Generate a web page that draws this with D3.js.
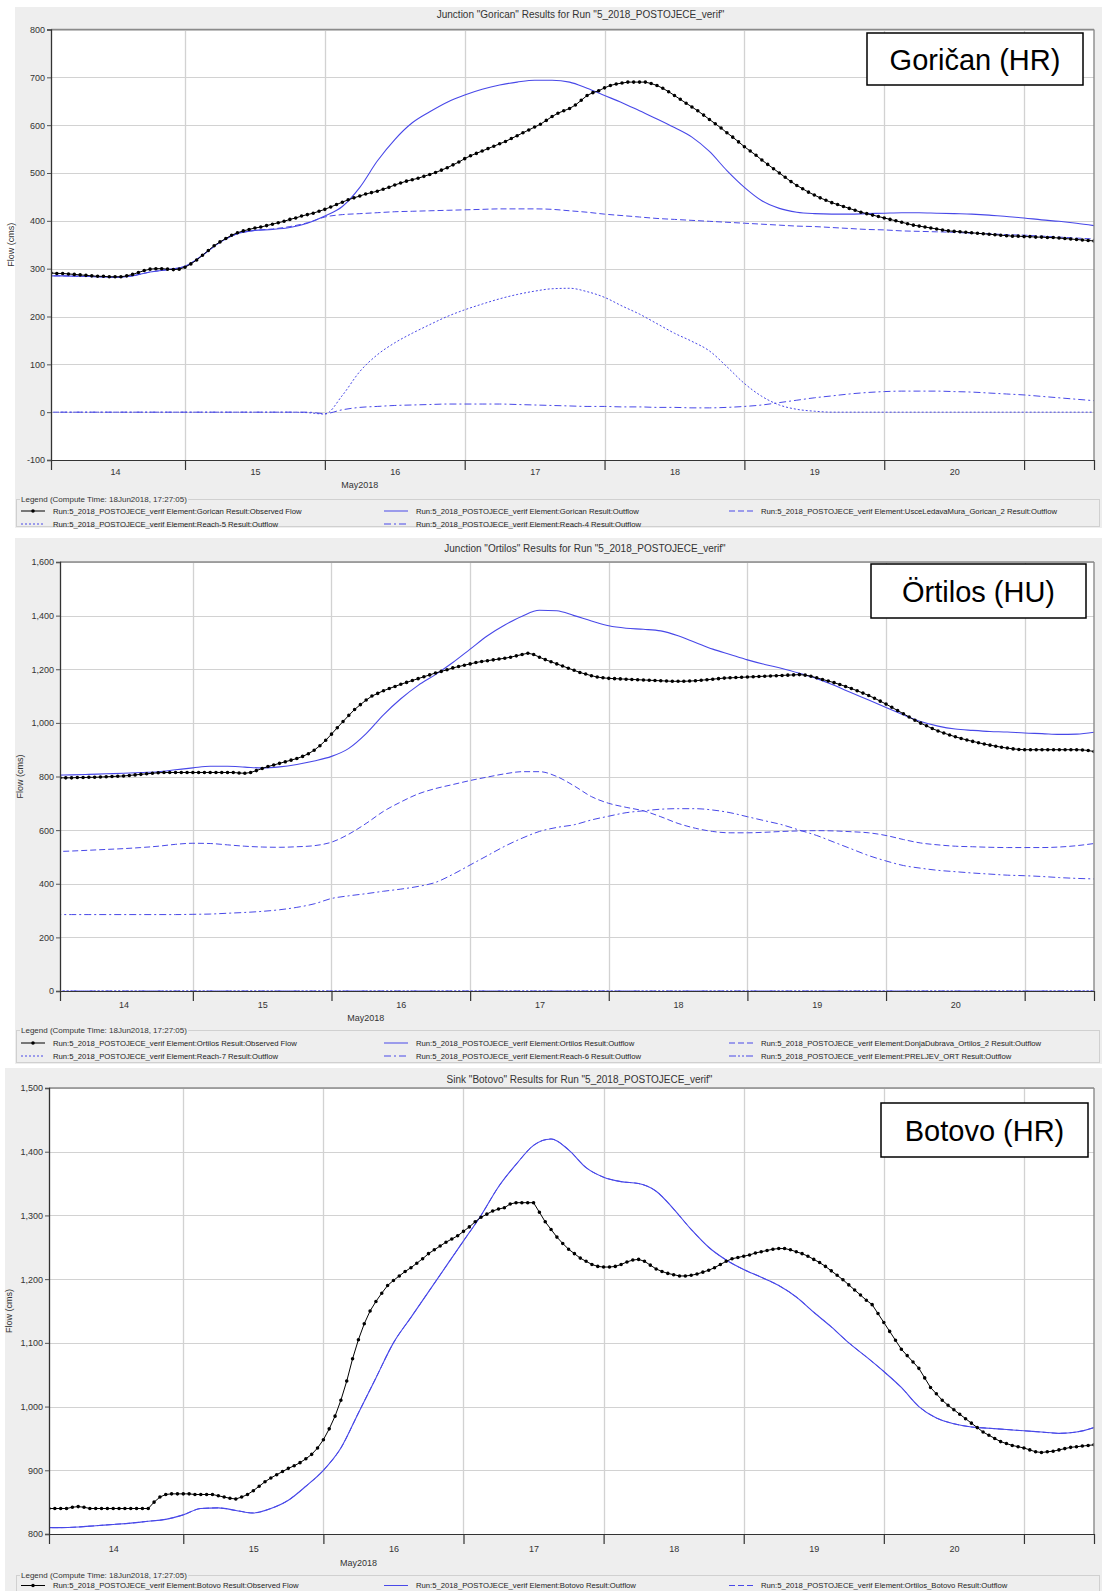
<!DOCTYPE html>
<html><head><meta charset="utf-8">
<script src="https://cdn.jsdelivr.net/npm/d3@7"></script>
<style>
body{margin:0;background:#fff}
svg{display:block}
text{font-family:"Liberation Sans",Arial,sans-serif}
</style>
</head><body>
<svg id="c" width="1102" height="1591"></svg>
<script>
// ---------------- DATA ----------------
const dayLabels = ["14","15","16","17","18","19","20"];
const monthLabel = "May2018";
const modelHours = d3.range(0, 181, 3);   // hours after 14 May 2018 00:00, every 3 h
const obsHours = d3.range(1, 181);        // hourly observations
const flatHours = [0, 180];

// Goričan
const goricanObs = [
 291,290,290,289,288,287,286,285,284,284,283,283,
 283,285,288,292,296,299,300,300,299,298,299,303,
 310,318,328,338,348,356,363,370,375,379,382,385,
 387,390,393,396,399,403,406,410,413,416,420,424,
 429,434,439,444,448,452,456,459,462,466,470,475,
 479,483,486,489,493,497,501,506,511,517,523,530,
 536,541,546,551,556,561,566,572,578,584,590,596,
 602,610,618,625,630,635,642,652,662,668,672,678,
 683,686,688,690,690,690,690,687,683,677,670,662,
 654,646,638,630,621,612,603,594,584,575,565,555,
 546,537,527,518,509,500,491,482,474,467,460,454,
 448,443,438,434,430,426,422,418,415,412,409,406,
 403,400,397,394,391,389,387,385,383,381,379,378,
 377,376,375,374,373,372,371,370,369,368,368,367,
 367,366,366,365,365,364,363,362,361,360,359,358];
const goricanOut = [
 285,285,284,283,282,285,293,298,305,328,355,373,
 380,382,386,395,410,430,470,525,570,605,628,648,
 663,675,684,690,694,694,690,677,662,647,630,613,
 595,575,545,505,470,442,426,418,415,414,414,415,
 416,417,417,416,415,414,412,409,406,402,399,395,
 390];
const usceLedavaMura = [
 285,285,284,283,282,285,293,298,305,328,355,373,
 380,383,388,396,408,413,415,417,419,420,421,422,
 423,424,425,425,425,424,421,418,414,411,408,405,
 403,401,399,397,395,393,391,389,388,386,384,382,
 381,379,378,377,376,374,373,371,370,368,366,364,
 362];
const reach5 = [
 0,0,0,0,0,0,0,0,0,0,0,0,
 0,0,0,-1,-4,35,85,120,145,165,183,200,
 214,226,237,246,253,258,259,252,240,222,205,185,
 165,148,128,95,60,33,15,6,2,0,0,0,
 0,0,0,0,0,0,0,0,0,0,0,0,
 0];
const reach4 = [
 0,0,0,0,0,0,0,0,0,0,0,0,
 0,0,0,0,-3,5,10,12,14,15,16,17,
 17,17,17,16,15,14,13,12,12,11,11,10,
 10,9,9,10,12,15,20,25,30,34,38,41,
 43,44,44,44,43,42,40,38,36,33,30,27,
 24];

// Örtilos
const ortilosObs = [
 795,795,795,796,796,797,797,798,799,800,801,802,
 804,806,808,810,812,814,815,815,815,815,815,815,
 815,815,815,815,815,815,815,813,812,815,822,830,
 837,843,849,855,861,867,875,885,898,915,935,958,
 982,1005,1028,1050,1068,1085,1100,1110,1120,1128,1136,1144,
 1151,1158,1165,1172,1179,1186,1192,1198,1205,1210,1215,1220,
 1225,1229,1232,1235,1238,1241,1245,1250,1255,1260,1255,1245,
 1236,1228,1220,1212,1204,1196,1188,1182,1176,1171,1168,1166,
 1165,1164,1163,1162,1161,1160,1159,1158,1157,1156,1155,1155,
 1155,1156,1157,1159,1161,1163,1165,1167,1168,1169,1170,1171,
 1172,1173,1174,1175,1176,1177,1178,1179,1180,1178,1174,1168,
 1162,1156,1150,1143,1136,1128,1120,1111,1102,1092,1081,1070,
 1058,1046,1034,1022,1010,999,989,979,970,962,955,948,
 942,936,931,926,921,917,913,909,906,903,901,900,
 900,900,900,900,900,900,900,900,900,899,897,893];
const ortilosOut = [
 805,806,808,810,812,815,818,825,832,838,838,835,
 832,836,845,858,875,905,960,1030,1090,1140,1180,1225,
 1275,1325,1365,1398,1420,1418,1400,1380,1362,1353,1349,1343,
 1325,1300,1275,1255,1235,1218,1203,1185,1165,1140,1112,1085,
 1057,1030,1005,988,977,972,968,966,962,960,957,958,
 965];
const donjaDubrava = [
 520,522,525,528,531,535,540,547,551,550,545,540,
 537,536,538,542,555,585,625,670,705,735,755,770,
 785,798,810,818,818,800,765,725,700,685,672,650,
 625,607,595,590,590,592,595,597,598,597,594,590,
 580,565,552,545,540,538,536,535,535,535,537,542,
 550];
const reach6 = [
 285,285,285,285,285,285,285,285,286,287,290,293,
 297,303,312,325,345,355,363,372,380,390,405,435,
 470,505,540,570,595,610,620,638,652,665,672,678,
 680,680,675,665,650,635,620,600,580,555,530,505,
 485,468,458,450,445,440,436,432,430,427,423,420,
 418];
const reach7 = [0, 0];
const preljevOrt = [0, 0];

// Botovo
const botovoObs = [
 840,840,840,840,842,843,842,840,840,840,840,840,
 840,840,840,840,840,840,850,858,862,863,863,863,
 863,862,862,862,862,860,858,856,855,858,862,868,
 875,882,888,893,898,903,907,912,918,925,935,948,
 965,985,1010,1040,1075,1105,1130,1150,1165,1178,1190,1198,
 1205,1212,1218,1225,1232,1240,1246,1252,1258,1263,1268,1275,
 1282,1290,1297,1302,1307,1310,1312,1318,1320,1320,1320,1320,
 1305,1290,1278,1266,1256,1247,1240,1233,1228,1223,1220,1219,
 1219,1220,1223,1227,1230,1231,1228,1222,1216,1212,1209,1207,
 1205,1205,1206,1208,1211,1214,1218,1223,1228,1232,1234,1236,
 1238,1241,1243,1245,1247,1248,1248,1246,1243,1240,1236,1231,
 1226,1220,1213,1206,1199,1191,1183,1175,1167,1160,1146,1132,
 1118,1104,1090,1080,1070,1060,1045,1030,1020,1010,1002,995,
 988,981,974,967,960,955,950,945,942,939,937,935,
 932,929,928,929,930,932,934,936,937,938,939,940];
const botovoOut = [
 810,810,811,813,815,817,820,823,830,840,841,837,
 833,840,853,875,900,935,990,1045,1100,1140,1180,1220,
 1260,1300,1345,1380,1410,1420,1403,1375,1360,1353,1350,1338,
 1310,1278,1250,1230,1215,1203,1190,1172,1148,1125,1100,1078,
 1055,1030,1000,982,973,968,966,964,962,960,958,960,
 967];
const ortilosBotovo = botovoOut; // sink inflow identical to its outflow

const run = "Run:5_2018_POSTOJECE_verif Element:";
const legendTitle = "Legend (Compute Time: 18Jun2018, 17:27:05)";

// ---------------- STYLE ----------------
const BLUE = "#4848e8";
const styles = {
  obs:   {stroke:"#000", dash:null, marker:true, w:1},
  solid: {stroke:BLUE, dash:null, w:1.1},
  dashed:{stroke:BLUE, dash:"6,3", w:1},
  dotted:{stroke:BLUE, dash:"2,2", w:1},
  dashdot:{stroke:BLUE, dash:"7,3,2,3", w:1},
  dashdotdot:{stroke:BLUE, dash:"7,2,2,2,2,2", w:1}
};

const panels = [
 {title:'Junction "Gorican" Results for Run "5_2018_POSTOJECE_verif"', station:"Goričan (HR)",
  bg:[15,7,1102,528], left:51, right:1094, top:29.5, bottom:460, yDomain:[-100,800], yStep:100,
  titleY:14, ylabX:11, below:[12,25,39,51,64], legendBottom:526,
  box:[867,33,216,52],
  series:[
   {hours:obsHours, vals:goricanObs, st:"obs", label:run+"Gorican Result:Observed Flow"},
   {hours:modelHours, vals:goricanOut, st:"solid", label:run+"Gorican Result:Outflow"},
   {hours:modelHours, vals:usceLedavaMura, st:"dashed", label:run+"UsceLedavaMura_Gorican_2 Result:Outflow"},
   {hours:modelHours, vals:reach5, st:"dotted", label:run+"Reach-5 Result:Outflow"},
   {hours:modelHours, vals:reach4, st:"dashdot", label:run+"Reach-4 Result:Outflow"}
  ]},
 {title:'Junction "Ortilos" Results for Run "5_2018_POSTOJECE_verif"', station:"Örtilos (HU)",
  bg:[15,538,1102,1064], left:60, right:1094, top:562, bottom:991, yDomain:[0,1600], yStep:200,
  titleY:548, ylabX:20, below:[14,27,39,52,65], legendBottom:1062,
  box:[871,564,215,54],
  series:[
   {hours:obsHours, vals:ortilosObs, st:"obs", label:run+"Ortilos Result:Observed Flow"},
   {hours:modelHours, vals:ortilosOut, st:"solid", label:run+"Ortilos Result:Outflow"},
   {hours:modelHours, vals:donjaDubrava, st:"dashed", label:run+"DonjaDubrava_Ortilos_2 Result:Outflow"},
   {hours:flatHours, vals:reach7, st:"dotted", label:run+"Reach-7 Result:Outflow"},
   {hours:modelHours, vals:reach6, st:"dashdot", label:run+"Reach-6 Result:Outflow"},
   {hours:flatHours, vals:preljevOrt, st:"dashdotdot", label:run+"PRELJEV_ORT Result:Outflow"}
  ]},
 {title:'Sink "Botovo" Results for Run "5_2018_POSTOJECE_verif"', station:"Botovo (HR)",
  bg:[5,1068,1102,1591], left:49, right:1094, top:1088, bottom:1534, yDomain:[800,1500], yStep:100,
  titleY:1079, ylabX:9, below:[15,29,41,51.5,64], legendBottom:1600,
  box:[881,1103,207,54],
  series:[
   {hours:obsHours, vals:botovoObs, st:"obs", label:run+"Botovo Result:Observed Flow"},
   {hours:modelHours, vals:botovoOut, st:"solid", label:run+"Botovo Result:Outflow"},
   {hours:modelHours, vals:ortilosBotovo, st:"dashed", label:run+"Ortilos_Botovo Result:Outflow"}
  ]}
];

// ---------------- DRAW ----------------
const svg = d3.select("#c");
const base = Date.UTC(2018, 4, 14);
const H = h => new Date(base + h * 3600000);
const t0 = H(1), t1 = H(180);
const fmtNum = d => d3.format(",")(d).replace("\u2212", "-");
const marker = d3.symbol().type(d3.symbolCircle).size(10);

panels.forEach((p, pi) => {
  const g = svg.append("g");
  g.append("rect").attr("x", p.bg[0]).attr("y", p.bg[1])
    .attr("width", p.bg[2] - p.bg[0]).attr("height", p.bg[3] - p.bg[1]).attr("fill", "#eeeeee");

  const x = d3.scaleUtc().domain([t0, t1]).range([p.left, p.right]);
  const y = d3.scaleLinear().domain(p.yDomain).range([p.bottom, p.top]);

  g.append("rect").attr("x", p.left).attr("y", p.top)
    .attr("width", p.right - p.left).attr("height", p.bottom - p.top).attr("fill", "#fff");

  const yt = d3.range(p.yDomain[0], p.yDomain[1] + 1, p.yStep);
  const mids = d3.utcDay.range(d3.utcDay.ceil(t0), t1);
  const noons = d3.utcDay.range(H(0), H(168)).map(d => d3.utcHour.offset(d, 12));

  // grid
  g.append("g").selectAll("line").data(yt).join("line")
    .attr("x1", p.left).attr("x2", p.right)
    .attr("y1", d => Math.round(y(d)) + 0.5).attr("y2", d => Math.round(y(d)) + 0.5)
    .attr("stroke", "#d2d2d2").attr("stroke-width", 1);
  g.append("g").selectAll("line").data(mids).join("line")
    .attr("x1", d => Math.round(x(d)) + 0.5).attr("x2", d => Math.round(x(d)) + 0.5)
    .attr("y1", p.top).attr("y2", p.bottom)
    .attr("stroke", "#d2d2d2").attr("stroke-width", 1.3);

  // series
  const clipId = "clip" + pi;
  g.append("clipPath").attr("id", clipId).append("rect")
    .attr("x", p.left).attr("y", p.top - 1).attr("width", p.right - p.left).attr("height", p.bottom - p.top + 2);
  const plot = g.append("g").attr("clip-path", `url(#${clipId})`);
  const order = ["dotted", "dashdot", "dashdotdot", "dashed", "solid", "obs"];
  const sorted = p.series.slice().sort((a, b) => order.indexOf(a.st) - order.indexOf(b.st));
  sorted.forEach(s => {
    const st = styles[s.st];
    const pts = s.vals.map((v, i) => [s.hours[i], v]);
    const line = d3.line().x(d => x(H(d[0]))).y(d => y(d[1]))
      .curve(s.st === "obs" ? d3.curveLinear : d3.curveMonotoneX);
    plot.append("path").datum(pts).attr("d", line).attr("fill", "none")
      .attr("stroke", st.stroke).attr("stroke-width", st.w)
      .attr("stroke-dasharray", st.dash);
    if (st.marker) {
      plot.append("g").selectAll("path").data(pts).join("path")
        .attr("d", marker).attr("transform", d => `translate(${x(H(d[0]))},${y(d[1])})`)
        .attr("fill", "#000");
    }
  });

  // frame
  g.append("line").attr("x1", p.left).attr("x2", p.right).attr("y1", p.top).attr("y2", p.top)
    .attr("stroke", "#8a8a8a").attr("stroke-width", 1.6);
  g.append("line").attr("x1", p.right).attr("x2", p.right).attr("y1", p.top).attr("y2", p.bottom)
    .attr("stroke", "#8a8a8a").attr("stroke-width", 1.4);

  // y axis
  const ya = g.append("g").attr("transform", `translate(${p.left},0)`)
    .call(d3.axisLeft(y).tickValues(yt).tickSize(4).tickPadding(2).tickFormat(fmtNum));
  ya.select(".domain").attr("stroke", "#333").attr("stroke-width", 1.3);
  ya.selectAll(".tick line").attr("stroke", "#555");
  ya.selectAll("text").attr("font-size", 9).attr("fill", "#333").attr("font-family", '"Liberation Sans",Arial,sans-serif');

  // x axis: midnight ticks
  const xa = g.append("g").attr("transform", `translate(0,${p.bottom})`)
    .call(d3.axisBottom(x).tickValues(mids).tickSize(10).tickFormat(""));
  xa.select(".domain").attr("stroke", "#333").attr("stroke-width", 1.2);
  xa.selectAll(".tick line").attr("stroke", "#333").attr("stroke-width", 1.2);
  // day labels at noon
  const xl = g.append("g").attr("transform", `translate(0,${p.bottom})`)
    .call(d3.axisBottom(x).tickValues(noons).tickSize(0).tickPadding(p.below[0] - 3.5)
      .tickFormat((d, i) => dayLabels[i]));
  xl.select(".domain").remove();
  xl.selectAll("text").attr("font-size", 9).attr("fill", "#333").attr("font-family", '"Liberation Sans",Arial,sans-serif');

  g.append("text").attr("x", x(noons[2]) - 35).attr("y", p.bottom + p.below[1] + 3.2)
    .attr("text-anchor", "middle").attr("font-size", 9).attr("fill", "#333").text(monthLabel);

  // title and y label
  g.append("text").attr("x", (p.left + p.right) / 2 + 8).attr("y", p.titleY + 3.5)
    .attr("text-anchor", "middle").attr("font-size", 10).attr("fill", "#333").text(p.title);
  g.append("text").attr("transform", `translate(${p.ylabX + 3},${(p.top + p.bottom) / 2}) rotate(-90)`)
    .attr("text-anchor", "middle").attr("font-size", 9).attr("fill", "#333").text("Flow (cms)");

  // station box
  g.append("rect").attr("x", p.box[0]).attr("y", p.box[1]).attr("width", p.box[2]).attr("height", p.box[3])
    .attr("fill", "#fff").attr("stroke", "#000").attr("stroke-width", 1.5);
  g.append("text").attr("x", p.box[0] + p.box[2] / 2).attr("y", p.box[1] + p.box[3] / 2 + 10.5)
    .attr("text-anchor", "middle").attr("font-size", 29).attr("fill", "#000").text(p.station);

  // legend
  const ly = p.bottom + p.below[2];
  g.append("rect").attr("x", 16.5).attr("y", ly + 0.5).attr("width", 1083).attr("height", p.legendBottom - ly)
    .attr("fill", "none").attr("stroke", "#d0d0d0");
  const lt = g.append("text").attr("x", 21).attr("y", ly + 3).attr("font-size", 8).attr("fill", "#333").text(legendTitle);
  const bb = lt.node().getBBox();
  g.insert("rect", () => lt.node()).attr("x", bb.x - 1).attr("y", ly - 1).attr("width", bb.width + 2).attr("height", 3).attr("fill", "#eeeeee");
  const colX = [21, 384, 729];
  p.series.forEach((s, i) => {
    const st = styles[s.st];
    const cx = colX[i % 3], cy = ly + (i < 3 ? p.below[3] - p.below[2] : p.below[4] - p.below[2]);
    g.append("line").attr("x1", cx).attr("x2", cx + 24).attr("y1", cy).attr("y2", cy)
      .attr("stroke", st.stroke).attr("stroke-width", 1).attr("stroke-dasharray", st.dash);
    if (st.marker) g.append("path").attr("d", d3.symbol().type(d3.symbolCircle).size(10)).attr("transform", `translate(${cx + 12},${cy})`).attr("fill", "#000");
    g.append("text").attr("x", cx + 32).attr("y", cy + 2.7).attr("font-size", 7.7).attr("fill", "#222").text(s.label);
  });
});
</script>
</body></html>
